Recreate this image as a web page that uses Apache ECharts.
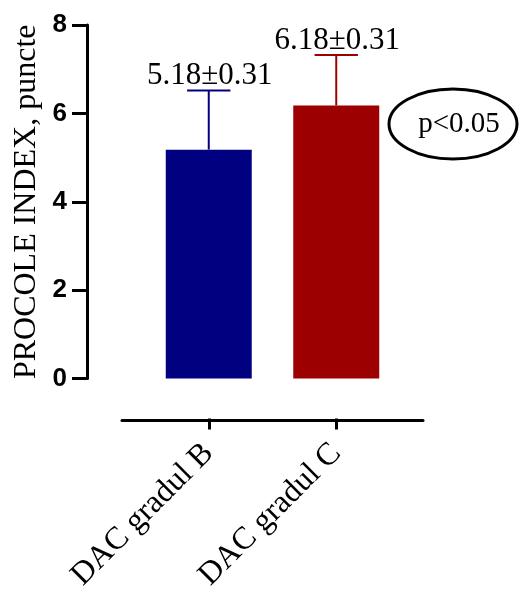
<!DOCTYPE html>
<html>
<head>
<meta charset="utf-8">
<script src="https://cdn.jsdelivr.net/npm/echarts@6/dist/echarts.min.js"></script>
<style>
  html, body { margin: 0; padding: 0; background: #fff; }
  #chart { width: 520px; height: 594px; }
</style>
</head>
<body>
<div id="chart"></div>
<script>
// date grafic
const categorii = ['DAC gradul B', 'DAC gradul C'];
const medii = [5.18, 6.18];
const abateri = [0.31, 0.31];          // valorile scrise deasupra barelor
const limiteSus = [6.52, 7.32];        // capetele barelor de eroare
const culori = ['#000080', '#9c0000'];
const yTicks = [0, 2, 4, 6, 8];

const chart = echarts.init(document.getElementById('chart'));

const serif = '"Liberation Serif", "Times New Roman", serif';

const option = {
    animation: false,
    backgroundColor: '#fff',
    grid: [
        { left: 145, right: 120, top: 25, bottom: 214 },
        { left: 122, right: 97, top: 25, bottom: 214 }
    ],
    xAxis: [
        {
            type: 'category',
            gridIndex: 0,
            data: categorii,
            offset: 40,
            axisLine: { show: false, onZero: false },
            axisTick: {
                show: true,
                alignWithLabel: true,
                length: 11,
                lineStyle: { color: '#000', width: 3 }
            },
            axisLabel: {
                rotate: 45,
                margin: 30,
                fontFamily: serif,
                fontSize: 32,
                color: '#000'
            }
        },
        {
            type: 'value',
            gridIndex: 1,
            offset: 40,
            min: 0,
            max: 1,
            axisLine: { show: true, onZero: false, lineStyle: { color: '#000', width: 3 } },
            axisTick: { show: false },
            axisLabel: { show: false },
            splitLine: { show: false }
        }
    ],
    yAxis: [
        {
            type: 'value',
            gridIndex: 0,
            min: yTicks[0],
            max: yTicks[yTicks.length - 1],
            interval: 2,
            offset: 58,
            name: 'PROCOLE INDEX, puncte',
            nameLocation: 'middle',
            nameRotate: 90,
            nameGap: 44,
            nameTextStyle: { fontFamily: serif, fontSize: 32, color: '#000' },
            axisLine: { show: true, onZero: false, lineStyle: { color: '#000', width: 3 } },
            axisTick: {
                show: true,
                inside: false,
                length: 15,
                lineStyle: { color: '#000', width: 3 }
            },
            axisLabel: {
                margin: 20,
                fontFamily: 'Arial, "Liberation Sans", sans-serif',
                fontWeight: 'bold',
                fontSize: 26,
                color: '#000'
            },
            splitLine: { show: false }
        },
        {
            type: 'value',
            gridIndex: 1,
            show: false
        }
    ],
    series: [
        {
            type: 'bar',
            xAxisIndex: 0,
            yAxisIndex: 0,
            barWidth: 86,
            data: medii.map((v, i) => ({ value: v, itemStyle: { color: culori[i] } })),
            z: 2
        },
        {
            type: 'custom',
            xAxisIndex: 0,
            yAxisIndex: 0,
            data: medii.map((v, i) => [i, v, limiteSus[i]]),
            z: 3,
            renderItem: function (params, api) {
                const i = api.value(0);
                const jos = api.coord([i, api.value(1)]);
                const sus = api.coord([i, api.value(2)]);
                const half = api.size([1, 0])[0] * 0.17;
                const culoare = culori[params.dataIndex];
                const stil = { stroke: culoare, lineWidth: 2 };
                const eticheta = medii[params.dataIndex].toFixed(2) + '±' + abateri[params.dataIndex].toFixed(2);
                return {
                    type: 'group',
                    children: [
                        { type: 'line', shape: { x1: jos[0], y1: jos[1], x2: sus[0], y2: sus[1] }, style: stil },
                        { type: 'line', shape: { x1: sus[0] - half, y1: sus[1], x2: sus[0] + half, y2: sus[1] }, style: stil },
                        {
                            type: 'text',
                            x: sus[0] + 1,
                            y: sus[1] + 1,
                            style: {
                                text: eticheta,
                                fontFamily: serif,
                                fontSize: 31,
                                fill: '#000',
                                align: 'center',
                                verticalAlign: 'bottom'
                            }
                        }
                    ]
                };
            }
        }
    ],
    graphic: [
        {
            type: 'ellipse',
            shape: { cx: 453, cy: 124, rx: 64, ry: 35 },
            style: { fill: 'none', stroke: '#000', lineWidth: 3 }
        },
        {
            type: 'text',
            x: 459,
            y: 124,
            style: {
                text: 'p<0.05',
                fontFamily: serif,
                fontSize: 29,
                fill: '#000',
                align: 'center',
                verticalAlign: 'middle'
            }
        }
    ]
};

chart.setOption(option);

window.addEventListener('resize', function () {
    chart.resize();
});
</script>
</body>
</html>
